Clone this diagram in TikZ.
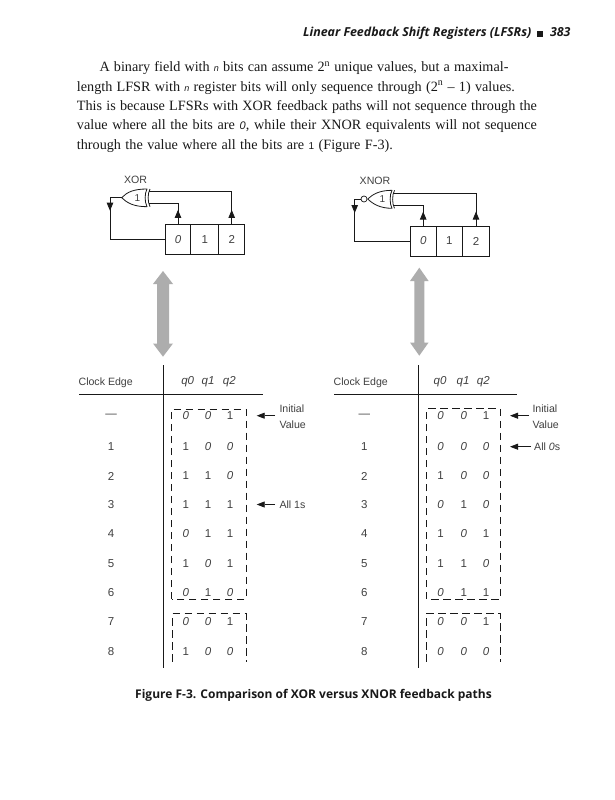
\documentclass[tikz,border=0pt]{standalone}
\usepackage{fontspec}
\setmainfont{Liberation Serif}
\setsansfont{Liberation Sans}
\newfontfamily\headfont{Open Sans}
\usetikzlibrary{arrows.meta,calc}
\definecolor{ink}{gray}{0.10}
\definecolor{soft}{gray}{0.25}
\definecolor{bar}{gray}{0.68}
\newcommand{\zr}{\textit{0}}
\newcommand{\bodyline}[2]{\makebox[#1pt][s]{\fontsize{14.2}{16}\selectfont\color{ink}#2}}
\newcommand{\smalln}{{\sffamily\itshape\fontsize{9}{10}\selectfont n}}
\tikzset{
  x=1pt,y=-1pt,
  lbl/.style={inner sep=0pt,font=\sffamily\fontsize{10.6}{12}\selectfont,text=soft},
  qlbl/.style={inner sep=0pt,font=\sffamily\itshape\fontsize{11.5}{12}\selectfont,text=soft},
  val/.style={inner sep=0pt,font=\sffamily\fontsize{11.5}{12}\selectfont,text=soft},
  bodytxt/.style={inner sep=0pt,anchor=base west},
  cellbox/.style={draw=ink,line width=0.8pt,minimum height=30pt,inner sep=0pt,font=\sffamily\fontsize{11.5}{12}\selectfont,text=soft},
  wire/.style={draw=ink,line width=0.8pt},
  tipwire/.style={wire,-{Triangle[length=8pt,width=6.5pt]}},
  rulel/.style={draw=ink,line width=0.8pt},
  dashbox/.style={draw=ink,line width=0.8pt,dash pattern=on 7.5pt off 4.5pt},
  pointer/.style={draw=ink,line width=0.8pt,-{Triangle[length=8pt,width=6pt]}},
  bigarrow/.style={draw=none,fill=bar},
}
\begin{document}
\begin{tikzpicture}
\useasboundingbox (0,0) rectangle (614,800);
\fill[white] (0,0) rectangle (614,800);

% Running head
\node[inner sep=0pt,anchor=base east,text=ink] (head) at (570.7,37)
  {\headfont\bfseries\itshape\fontsize{12.4}{14}\selectfont Linear Feedback Shift Registers (LFSRs) \,\rule{6pt}{6pt}\,\, 383};

% Paragraph
\node[bodytxt] (l1) at (99.3,71.5) {\bodyline{409}{A binary field with \smalln{} bits can assume 2\textsuperscript{n} unique values, but a maximal-}};
\node[bodytxt] (l2) at (76.7,91) {\bodyline{438}{length LFSR with \smalln{} register bits will only sequence through (2\textsuperscript{n} -- 1) values.}};
\node[bodytxt] (l3) at (76.7,110.5) {\bodyline{460}{This is because LFSRs with XOR feedback paths will not sequence through the}};
\node[bodytxt] (l4) at (76.7,129.5) {\bodyline{460}{value where all the bits are {\sffamily\fontsize{11}{12}\selectfont\zr}, while their XNOR equivalents will not sequence}};
\node[bodytxt] (l5) at (76.7,149) {\bodyline{316}{through the value where all the bits are {\sffamily\fontsize{10}{12}\selectfont 1} (Figure F-3).}};

% ---------- XOR circuit
\node[lbl] (xorlabel) at (135.5,179.5) {XOR};
\node[cellbox,minimum width=25.4pt] (a0) at (178,239.3) {\zr};
\node[cellbox,minimum width=28pt] (a1) at (204.7,239.3) {1};
\node[cellbox,minimum width=26pt] (a2) at (231.7,239.3) {2};
\coordinate (agout) at (121.7,197.7);
\coordinate (agin1) at (149,191);
\coordinate (agin2) at (149,203.5);
\coordinate (afb) at (110,197.7);
\draw[wire,line join=round] (agout) .. controls (127,192) and (134,189) .. (147,189)
   .. controls (144.5,194) and (144.5,201.5) .. (147,206.7)
   .. controls (134,206.7) and (127,203) .. (agout);
\draw[wire] (150,189) .. controls (147.5,194) and (147.5,201.5) .. (150,206.7);
\node[val,font=\sffamily\fontsize{10}{11}\selectfont] (agl) at (137.5,197.7) {1};
\draw[wire] (a0.west) -| (afb) -- (agout);
\draw[tipwire] (afb) -- ($(afb)+(0,13)$);
\draw[wire] (a0.north) |- (agin2);
\draw[tipwire] (a0.north) -- ($(a0.north)+(0,-14)$);
\draw[wire] (a2.north) |- (agin1);
\draw[tipwire] (a2.north) -- ($(a2.north)+(0,-14)$);
\draw[bigarrow] (163,271) -- (173,284) -- (169,284) -- (169,343.5) -- (173,343.5) -- (163,356.7)
  -- (153,343.5) -- (157,343.5) -- (157,284) -- (153,284) -- cycle;

% ---------- XNOR circuit
\node[lbl] (xnorlabel) at (375,181) {XNOR};
\node[cellbox,minimum width=25.7pt] (b0) at (423.2,241) {\zr};
\node[cellbox,minimum width=26.7pt] (b1) at (449.4,241) {1};
\node[cellbox,minimum width=26.6pt] (b2) at (476,241) {2};
\coordinate (bgout) at (367.7,199);
\coordinate (bgin1) at (393.5,193.3);
\coordinate (bgin2) at (393.5,205.3);
\coordinate (bfb) at (354.7,199);
\draw[wire,line join=round] (bgout) .. controls (373,194) and (380,190.3) .. (392,190.3)
   .. controls (389.5,195) and (389.5,203.5) .. (392,208.3)
   .. controls (380,208.3) and (373,204) .. (bgout);
\draw[wire] (394.5,190.3) .. controls (392,195) and (392,203.5) .. (394.5,208.3);
\node[wire,circle,inner sep=0pt,minimum size=6pt,line width=0.7pt] (bub) at (364,199) {};
\node[val,font=\sffamily\fontsize{10}{11}\selectfont] (bgl) at (382.5,199) {1};
\draw[wire] (b0.west) -| (bfb) -- (bub.west);
\draw[tipwire] (bfb) -- ($(bfb)+(0,14)$);
\draw[wire] (b0.north) |- (bgin2);
\draw[tipwire] (b0.north) -- ($(b0.north)+(0,-14)$);
\draw[wire] (b2.north) |- (bgin1);
\draw[tipwire] (b2.north) -- ($(b2.north)+(0,-14)$);
\draw[bigarrow] (419.3,267.7) -- (428.6,281) -- (424.3,281) -- (424.3,342.5) -- (428.6,342.5) -- (419.3,355.7)
  -- (410,342.5) -- (414.3,342.5) -- (414.3,281) -- (410,281) -- cycle;

% ---------- Left table
\coordinate (ltv1) at (163.3,365);
\coordinate (ltv2) at (163.3,668);
\coordinate (ltr1) at (79,394);
\coordinate (ltr2) at (262.7,394);
\draw[rulel] (ltv1) -- (ltv2);
\draw[rulel] (ltr1) -- (ltr2);
\node[lbl] (lce) at (105.7,382.5) {Clock Edge};
\node[qlbl] (lq0) at (187.7,382) {q0};
\node[qlbl] (lq1) at (208,382) {q1};
\node[qlbl] (lq2) at (229.3,382) {q2};
\draw[dashbox] (171.7,599) -- (171.7,409) -- (246,409) -- (246,599) -- cycle;
\draw[dashbox] (172.7,661.7) -- (172.7,613.7) -- (246,613.7) -- (246,661.7);
\foreach \nm/\yy/\lab/\pa/\pb/\pc in {
  0/416/{---}/\zr/\zr/1,
  1/446.7/1/1/\zr/\zr,
  2/476/2/1/1/\zr,
  3/505/3/1/1/1,
  4/534/4/\zr/1/1,
  5/563.3/5/1/\zr/1,
  6/592.7/6/\zr/1/\zr,
  7/622/7/\zr/\zr/1,
  8/651.3/8/1/\zr/\zr}{
  \node[val] (lr\nm) at (111,\yy) {\lab};
  \node[val] (la\nm) at (185.7,\yy) {\pa};
  \node[val] (lb\nm) at (208,\yy) {\pb};
  \node[val] (lc\nm) at (230,\yy) {\pc};
}
\node[lbl,anchor=west] (linit1) at (279.3,409) {Initial};
\node[lbl,anchor=west] (linit2) at (279.3,424.5) {Value};
\node[lbl,anchor=west] (lall) at (279.3,504.5) {All 1s};
\coordinate (lp1) at (275,415.7);
\coordinate (lp1e) at (256.7,415.7);
\coordinate (lp2) at (275,504.5);
\coordinate (lp2e) at (256.7,504.5);
\draw[pointer] (lp1) -- (lp1e);
\draw[pointer] (lp2) -- (lp2e);

% ---------- Right table
\coordinate (rtv1) at (418.3,365);
\coordinate (rtv2) at (418.3,668);
\coordinate (rtr1) at (334,394.7);
\coordinate (rtr2) at (516.7,394.7);
\draw[rulel] (rtv1) -- (rtv2);
\draw[rulel] (rtr1) -- (rtr2);
\node[lbl] (rce) at (360.7,382.5) {Clock Edge};
\node[qlbl] (rq0) at (440,382) {q0};
\node[qlbl] (rq1) at (463,382) {q1};
\node[qlbl] (rq2) at (483.3,382) {q2};
\draw[dashbox] (426.7,599) -- (426.7,408.7) -- (500.3,408.7) -- (500.3,599) -- cycle;
\draw[dashbox] (426.7,661.7) -- (426.7,613.3) -- (500.3,613.3) -- (500.3,661.7);
\foreach \nm/\yy/\lab/\pa/\pb/\pc in {
  0/416/{---}/\zr/\zr/1,
  1/446.7/1/\zr/\zr/\zr,
  2/476/2/1/\zr/\zr,
  3/505/3/\zr/1/\zr,
  4/534/4/1/\zr/1,
  5/563.3/5/1/1/\zr,
  6/592.7/6/\zr/1/1,
  7/622/7/\zr/\zr/1,
  8/651.3/8/\zr/\zr/\zr}{
  \node[val] (rr\nm) at (364.3,\yy) {\lab};
  \node[val] (ra\nm) at (440.5,\yy) {\pa};
  \node[val] (rb\nm) at (463.7,\yy) {\pb};
  \node[val] (rc\nm) at (486,\yy) {\pc};
}
\node[lbl,anchor=west] (rinit1) at (532.3,409) {Initial};
\node[lbl,anchor=west] (rinit2) at (532.3,424.5) {Value};
\node[lbl,anchor=west] (rall) at (534,446.7) {All \zr s};
\coordinate (rp1) at (529,415.7);
\coordinate (rp1e) at (510,415.7);
\coordinate (rp2) at (531,446.7);
\coordinate (rp2e) at (510,446.7);
\draw[pointer] (rp1) -- (rp1e);
\draw[pointer] (rp2) -- (rp2e);

% Caption
\node[inner sep=0pt,text=ink] (cap) at (313.5,695)
  {\headfont\bfseries\fontsize{12}{14}\selectfont Figure F-3. Comparison of XOR versus XNOR feedback paths};
\end{tikzpicture}
\end{document}
